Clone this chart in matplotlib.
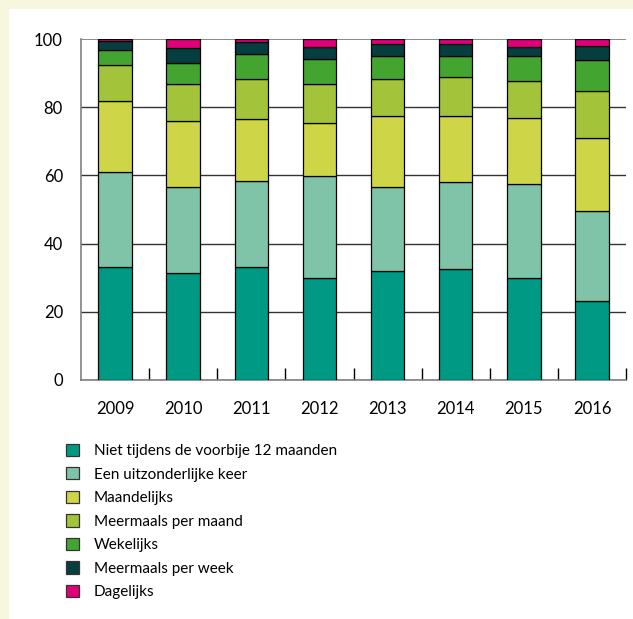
import matplotlib.pyplot as plt
from matplotlib.patches import Rectangle, Patch
import numpy as np

plt.rcParams['font.family'] = ['Lato', 'DejaVu Sans']

years = ['2009', '2010', '2011', '2012', '2013', '2014', '2015', '2016']

labels = ['Niet tijdens de voorbije 12 maanden', 'Een uitzonderlijke keer',
          'Maandelijks', 'Meermaals per maand', 'Wekelijks',
          'Meermaals per week', 'Dagelijks']
colors = ['#009A84', '#7FC4A8', '#CED648', '#A3C33B', '#43A52F',
          '#063D3E', '#E0007A']

niet = [33.2, 31.4, 33.2, 29.8, 32.0, 32.5, 29.8, 23.1]
uitzonderlijk = [27.8, 25.2, 25.3, 30.1, 24.6, 25.6, 27.7, 26.4]
maandelijks = [20.7, 19.3, 18.0, 15.4, 20.8, 19.3, 19.2, 21.5]
meermaals_maand = [10.8, 11.0, 11.8, 11.6, 10.9, 11.5, 11.1, 13.7]
wekelijks = [4.2, 6.2, 7.2, 7.1, 6.7, 6.1, 7.2, 9.2]
meermaals_week = [2.8, 4.2, 3.7, 3.6, 3.5, 3.5, 2.7, 4.0]
dagelijks = [0.5, 2.7, 0.8, 2.4, 1.5, 1.5, 2.3, 2.1]

series = [niet, uitzonderlijk, maandelijks, meermaals_maand, wekelijks,
          meermaals_week, dagelijks]

fig = plt.figure(figsize=(6.33, 6.19), dpi=100, facecolor='#F7F7DF')
# white panel, cream strip left and top
fig.patches.append(Rectangle((9 / 633, 0), 1, (619 - 9) / 619,
                             transform=fig.transFigure, facecolor='white',
                             edgecolor='none', zorder=-10))

ax = fig.add_axes([81 / 633, 239 / 619, 545 / 633, 341 / 619])
ax.set_facecolor('white')

x = np.arange(len(years))
bottom = np.zeros(len(years))
for vals, col in zip(series, colors):
    ax.bar(x, vals, width=0.49, bottom=bottom, color=col,
           edgecolor='black', linewidth=0.9, zorder=3)
    bottom += np.array(vals)

ax.set_xlim(-0.5, len(years) - 0.5)
ax.set_ylim(0, 100)
ax.set_yticks([0, 20, 40, 60, 80, 100])
ax.set_xticks(x)
ax.set_xticklabels(years)
ax.tick_params(axis='both', length=0, labelsize=12, colors='black')
ax.tick_params(axis='y', pad=13)
ax.tick_params(axis='x', pad=15)
ax.set_xticks(np.arange(len(years)) + 0.5, minor=True)
ax.tick_params(axis='x', which='minor', direction='in', length=8.5,
               width=1, color='black')

ax.yaxis.grid(True, color='#333333', linewidth=1, zorder=1)
ax.set_axisbelow(True)
ax.get_ygridlines()[-1].set_color('#808080')
ax.get_ygridlines()[-1].set_linewidth(1.3)
for s in ['top', 'right']:
    ax.spines[s].set_visible(False)
ax.spines['left'].set_color('#808080')
ax.spines['bottom'].set_color('#808080')
ax.spines['left'].set_linewidth(1.2)
ax.spines['bottom'].set_linewidth(1.2)

handles = [Patch(facecolor=c, edgecolor='#333333', linewidth=0.9) for c in colors]
fig.legend(handles, labels, loc='upper left',
           bbox_to_anchor=(52 / 633, 1 - 430 / 619), frameon=False,
           fontsize=11, handlelength=0.85, handleheight=0.85,
           handletextpad=1.0, labelspacing=0.6)

fig.savefig('out.png', dpi=100, facecolor=fig.get_facecolor())
